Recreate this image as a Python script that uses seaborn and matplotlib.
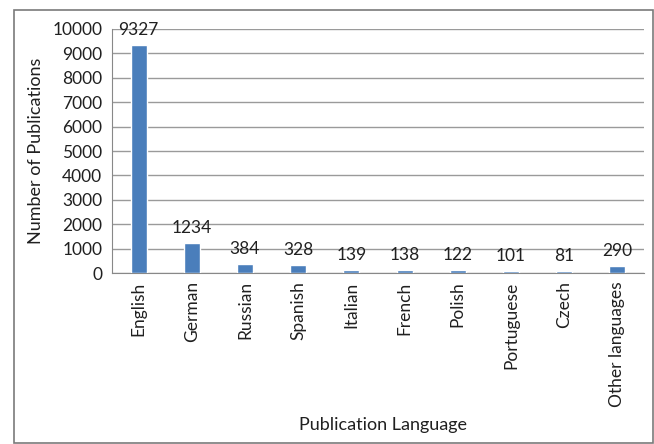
import matplotlib
matplotlib.use("Agg")
import matplotlib.pyplot as plt
import seaborn as sns
import pandas as pd

languages = ["English", "German", "Russian", "Spanish", "Italian", "French",
             "Polish", "Portuguese", "Czech", "Other languages"]
counts = [9327, 1234, 384, 328, 139, 138, 122, 101, 81, 290]
yticks = [0, 1000, 2000, 3000, 4000, 5000, 6000, 7000, 8000, 9000, 10000]

sns.set_style("white")
plt.rcParams['font.family'] = ['Lato', 'DejaVu Sans']

df = pd.DataFrame({"lang": languages, "n": counts})

fig = plt.figure(figsize=(6.54, 4.44), dpi=100)
ax = fig.add_axes([112/654, 1 - 273/444, (644-112)/654, (273-29)/444])

sns.barplot(data=df, x="lang", y="n", color="#4a7ebb", width=0.3, ax=ax,
            saturation=1, zorder=3)

fs = 12.5
txt = "#202020"
ax.set_ylim(0, 10000)
ax.set_xlim(-0.5, len(languages) - 0.5)
ax.set_yticks(yticks)
ax.set_yticklabels([str(v) for v in yticks], fontsize=fs, color=txt)
ax.tick_params(axis='y', length=4, color="#888888", pad=3)
ax.tick_params(axis='x', length=0, pad=6)
ax.set_xticks(range(len(languages)))
ax.set_xticklabels(languages, rotation=90, fontsize=fs, color=txt)
ax.yaxis.grid(True, color="#9a9a9a", linewidth=1.0, zorder=0)
ax.set_axisbelow(True)

for s in ["top", "right"]:
    ax.spines[s].set_visible(False)
ax.spines["left"].set_color("#888888")
ax.spines["bottom"].set_color("#888888")

for i, v in enumerate(counts):
    ax.annotate(str(v), (i, v), xytext=(0, 5), textcoords="offset points",
                ha="center", va="bottom", fontsize=fs, color=txt)

ax.set_ylabel("Number of Publications", fontsize=fs + 0.5, labelpad=6, color=txt)
ax.set_xlabel("")
fig.text(383/654, 1 - 425/444, "Publication Language", ha="center", va="center",
         fontsize=fs + 0.5, color=txt)

# outer frame
frame = plt.Rectangle((14/654, 0.002), 1 - 14/654 - 0.002, 1 - 10/444 - 0.002,
                      transform=fig.transFigure, fill=False,
                      edgecolor="#7a7a7a", linewidth=1.2)
fig.patches.append(frame)

fig.savefig("out.png", dpi=100)
